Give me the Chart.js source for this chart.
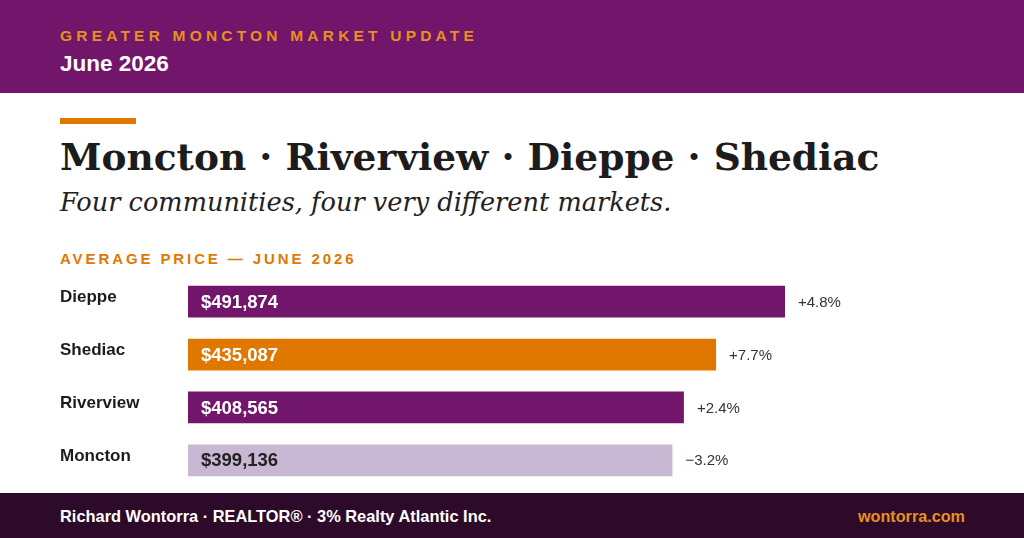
<!DOCTYPE html>
<html><head><meta charset="utf-8">
<script src="https://cdn.jsdelivr.net/npm/chart.js@4/dist/chart.umd.min.js"></script>
<style>
body{margin:0;width:1024px;height:538px;position:relative;overflow:hidden;background:#fff;font-family:"Liberation Sans",Arial,sans-serif}
#hdr{position:absolute;left:0;top:0;width:1024px;height:93px;background:#72166b}
#k{position:absolute;left:60px;top:27px;color:#e8901e;font-weight:bold;font-size:15.5px;letter-spacing:4.2px}
#d{position:absolute;left:60px;top:51px;color:#fff;font-weight:bold;font-size:22.5px}
#acc{position:absolute;left:60px;top:118px;width:76px;height:6px;background:#e07800}
#t{position:absolute;left:60px;top:135px;font-family:"DejaVu Serif",serif;font-weight:bold;font-size:37.5px;color:#1c1c1c;white-space:nowrap}
#s{position:absolute;left:60px;top:187px;font-family:"DejaVu Serif",serif;font-style:italic;font-size:25.6px;color:#222;white-space:nowrap}
#sec{position:absolute;left:60px;top:250px;color:#e07800;font-weight:bold;font-size:15px;letter-spacing:2.9px}
#wrap{position:absolute;left:60px;top:265px;width:964px;height:232px}
#ftr{position:absolute;left:0;top:493px;width:1024px;height:45px;background:#2d0a2a}
#fl{position:absolute;left:60px;top:14px;color:#fff;font-weight:bold;font-size:16.4px}
#fr{position:absolute;right:59px;top:14px;color:#e8901e;font-weight:bold;font-size:16.2px}
</style></head><body>
<div id="hdr"><div id="k">GREATER MONCTON MARKET UPDATE</div><div id="d">June 2026</div></div>
<div id="acc"></div>
<div id="t">Moncton · Riverview · Dieppe · Shediac</div>
<div id="s">Four communities, four very different markets.</div>
<div id="sec">AVERAGE PRICE — JUNE 2026</div>
<div id="wrap"><canvas id="c"></canvas></div>
<div id="ftr"><div id="fl">Richard Wontorra · REALTOR® · 3% Realty Atlantic Inc.</div><div id="fr">wontorra.com</div></div>
<script>
const communities=["Dieppe","Shediac","Riverview","Moncton"];
const prices=[491874,435087,408565,399136];
const changes=["+4.8%","+7.7%","+2.4%","\u22123.2%"];
const colors=["#72166b","#e07800","#72166b","#c9b8d3"];
const valueColors=["#fff","#fff","#fff","#222"];
const labels={id:"lbl",afterDatasetsDraw(ch){const c=ch.ctx;const m=ch.getDatasetMeta(0);c.save();c.textBaseline="middle";
m.data.forEach((b,i)=>{c.font="bold 18.5px 'Liberation Sans',Arial";c.fillStyle=valueColors[i];c.textAlign="left";
c.fillText("$"+prices[i].toLocaleString("en-US"),b.base+13,b.y+1);
c.font="15px 'Liberation Sans',Arial";c.fillStyle="#333";c.fillText(changes[i],b.x+13,b.y+1);});c.restore();}};
new Chart(document.getElementById("c"),{type:"bar",
data:{labels:communities,datasets:[{data:prices,backgroundColor:colors,barPercentage:0.6,categoryPercentage:1}]},
options:{indexAxis:"y",responsive:true,maintainAspectRatio:false,animation:false,layout:{padding:0},
plugins:{legend:{display:false},tooltip:{enabled:false}},
scales:{x:{display:false,min:0,max:688800},
y:{grid:{display:false},border:{display:false},afterFit(s){s.width=128;},
ticks:{crossAlign:"far",padding:0,labelOffset:-4,color:"#1c1c1c",font:{family:"'Liberation Sans',Arial",weight:"bold",size:17}}}}},
plugins:[labels]});
</script></body></html>
